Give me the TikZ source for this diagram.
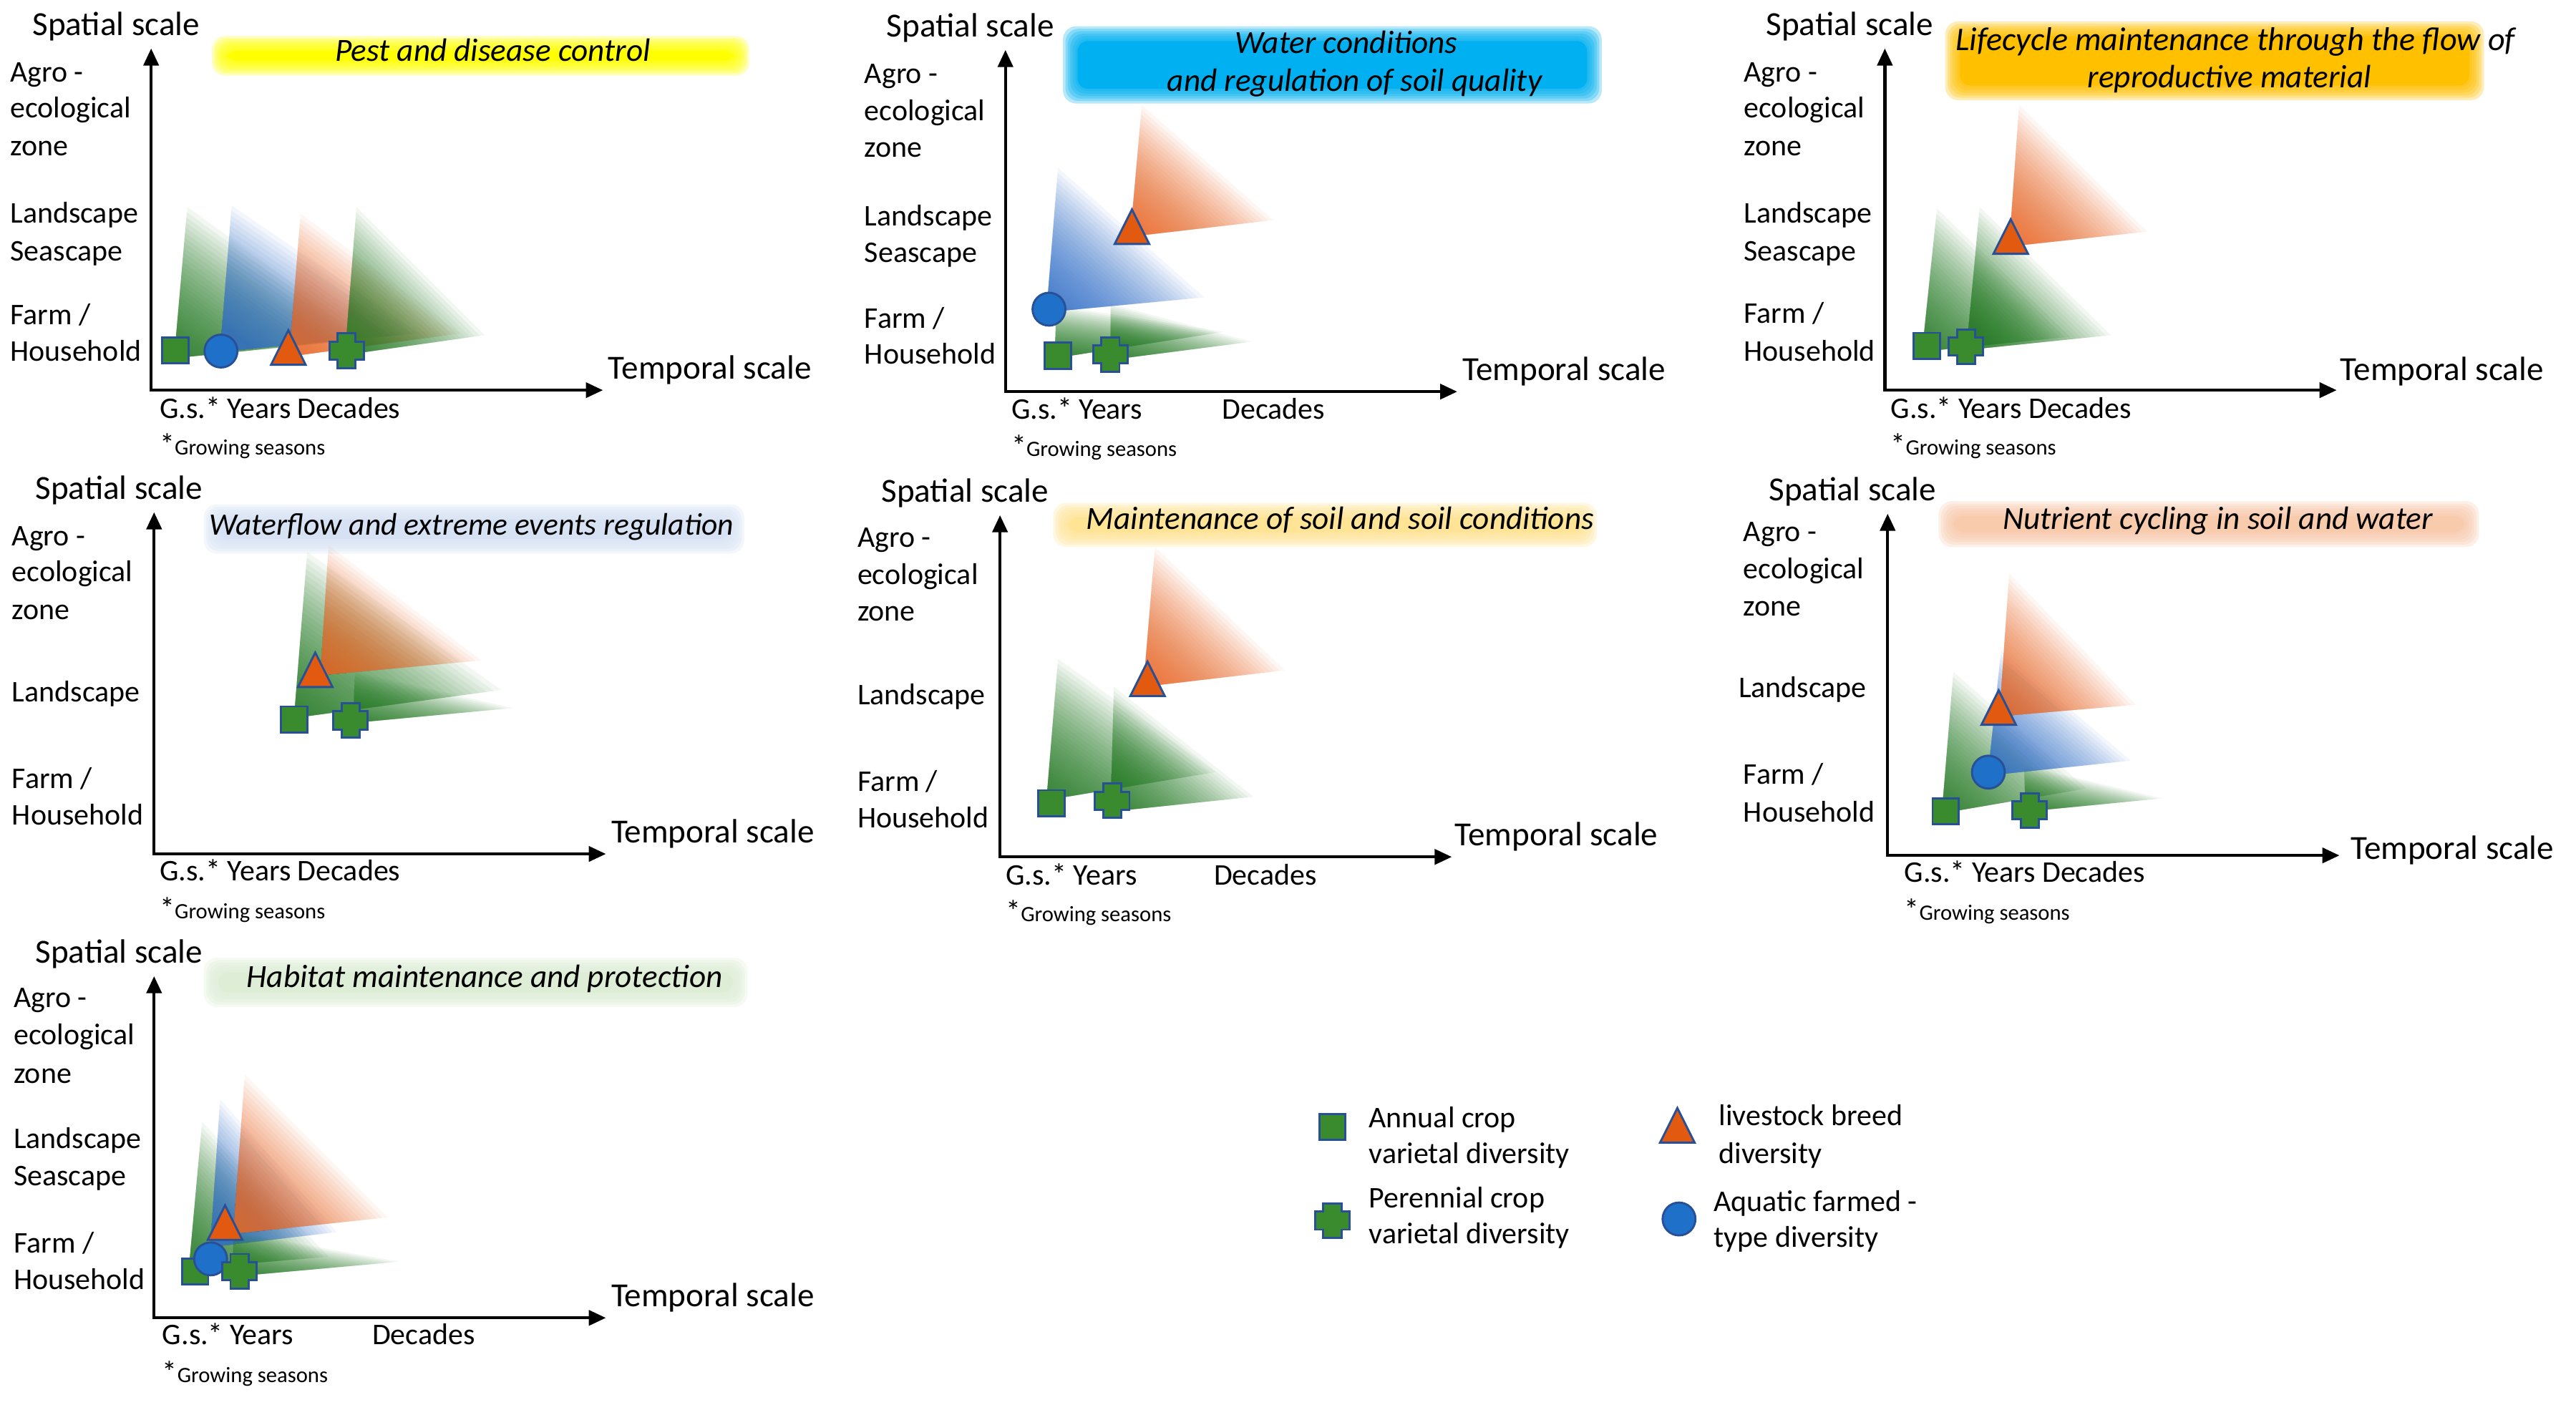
\documentclass[tikz,border=0pt]{standalone}
\usepackage{fontspec}
\setmainfont{Carlito}
\usetikzlibrary{arrows.meta,calc}

\definecolor{fgreen}{RGB}{40,125,40}
\definecolor{fblue}{RGB}{55,115,205}
\definecolor{forange}{RGB}{236,106,42}
\definecolor{mgreen}{RGB}{58,139,46}
\definecolor{mblue}{RGB}{31,112,200}
\definecolor{morange}{RGB}{226,90,16}
\definecolor{medge}{RGB}{40,80,150}
\definecolor{tyellow}{RGB}{255,255,0}
\definecolor{tcyan}{RGB}{0,176,240}
\definecolor{tamber}{RGB}{255,192,0}
\definecolor{tlblue}{RGB}{214,226,244}
\definecolor{tgold}{RGB}{255,228,150}
\definecolor{tpeach}{RGB}{249,203,173}
\definecolor{tlgreen}{RGB}{222,238,214}

\tikzset{
 axisline/.style={line width=1.3pt, line join=miter, {Triangle[length=2.6mm,width=2.3mm]}-{Triangle[length=2.6mm,width=2.3mm]}},
 axlab/.style={anchor=west, inner sep=0pt, font=\fontsize{14.6}{17}\selectfont, text height=1.5ex, text depth=0.25ex},
 lvl/.style={anchor=west, inner sep=0pt, font=\fontsize{13}{15}\selectfont, text height=1.5ex, text depth=0.25ex},
 ttl/.style={inner sep=0pt, font=\fontsize{14}{16}\selectfont\itshape, text height=1.5ex, text depth=0.25ex},
 mk/.style={draw=medge, line width=0.9pt, line join=miter},
}

\newcommand{\fan}[4]{%
  \foreach \k in {1,...,40}{%
    \pgfmathsetmacro\fanT{(\k/40)^1.4}%
    \fill[#1, opacity=0.06] (#2) -- ($(#2)!\fanT!(#3)$) -- ($(#2)!\fanT!(#4)$) -- cycle;
  }}
\newcommand{\sqm}[3]{\coordinate (#1) at (#2,#3);
  \draw[mk, fill=mgreen, shift={(#1)}] (-8,-8) rectangle (8,8);}
\newcommand{\cim}[3]{\coordinate (#1) at (#2,#3);
  \draw[mk, fill=mblue] (#1) circle[radius=10];}
\newcommand{\trm}[3]{\coordinate (#1) at (#2,#3);
  \draw[mk, fill=morange, shift={(#1)}] (0,-10.5) -- (10.5,10.5) -- (-10.5,10.5) -- cycle;}
\newcommand{\crm}[3]{\coordinate (#1) at (#2,#3);
  \draw[mk, fill=mgreen, shift={(#1)}] (-5.5,-10.5) -- (5.5,-10.5) -- (5.5,-5.5) -- (10.5,-5.5) -- (10.5,5.5) -- (5.5,5.5) -- (5.5,10.5) -- (-5.5,10.5) -- (-5.5,5.5) -- (-10.5,5.5) -- (-10.5,-5.5) -- (-5.5,-5.5) -- cycle;}
\newcommand{\tbox}[5]{%
  \fill[#1, rounded corners=1.5mm] (#2+9,#3+9) rectangle (#4-9,#5-9);
  \foreach \e in {0,1.5,...,7.5}{%
    \fill[#1, opacity=0.28, rounded corners=2mm] (#2+\e,#3+\e) rectangle (#4-\e,#5-\e);}}
\newcommand{\axes}[1]{%
  \coordinate (#1o) at (0,0);
  \coordinate (#1xe) at (275,0);
  \coordinate (#1ye) at (0,-208);
  \draw[axisline] (#1ye) -- (#1o) -- (#1xe);
  \node[axlab] (#1sp) at (-72.5,-220) {Spatial scale};}

\begin{document}
\begin{tikzpicture}[x=0.25mm, y=-0.25mm]
\useasboundingbox (0,0) rectangle (1568,855);
\fill[white] (0,0) rectangle (1568,855);

% ---------- title boxes ----------
\tbox{tyellow}{129}{22}{456}{46}
\tbox{tcyan}{647}{16}{975}{63}
\tbox{tamber}{1184}{13}{1512}{61}
\tbox{tlblue}{124}{307}{453}{337}
\tbox{tgold}{641}{306}{972}{333}
\tbox{tpeach}{1180}{305}{1509}{333}
\tbox{tlgreen}{124}{583}{455}{613}

\node[ttl] (t1) at (300,33) {Pest and disease control};
\node[ttl] (t2a) at (819.5,28.3) {Water conditions};
\node[ttl] (t2b) at (824.6,51.2) {and regulation of soil quality};
\node[ttl, anchor=west, font=\fontsize{14.3}{16}\selectfont\itshape] (t3a) at (1190,26.5) {Lifecycle maintenance through the flow of};
\node[ttl] (t3b) at (1357,49.3) {reproductive material};
\node[ttl, font=\fontsize{13.5}{16}\selectfont\itshape] (t4) at (287,321.6) {Waterflow and extreme events regulation};
\node[ttl, anchor=west] (t5) at (661,318) {Maintenance of soil and soil conditions};
\node[ttl] (t6) at (1350,318) {Nutrient cycling in soil and water};
\node[ttl] (t7) at (295,597) {Habitat maintenance and protection};

% ---------- panel 1 ----------
\begin{scope}[shift={(92,237.5)}]
\axes{p1}
\node[axlab] (p1tp) at (278,-11) {Temporal scale};
\node[lvl] (p1l1) at (-86,-192) {Agro -};
\node[lvl] (p1l2) at (-86,-170) {ecological};
\node[lvl] (p1l3) at (-86,-147) {zone};
\node[lvl] (p1l4) at (-86,-106) {Landscape};
\node[lvl] (p1l5) at (-86,-83) {Seascape};
\node[lvl] (p1l6) at (-86,-44) {Farm /};
\node[lvl] (p1l7) at (-86,-22) {Household};
\node[lvl] (p1gs) at (5,12.8) {G.s.* Years Decades};
\node[lvl] (p1gr) at (5,35) {*{\fontsize{9.5}{11}\selectfont Growing seasons}};
\end{scope}
\fan{fgreen}{106,218}{114,126}{225,206}
\fan{fblue}{134,214}{141,125}{255,203}
\fan{forange}{176,217}{183,130}{280,203}
\fan{fgreen}{210,216}{217,126}{295,204}
\sqm{p1sq}{106.7}{213.3}
\cim{p1ci}{134.5}{213.7}
\trm{p1tr}{175.5}{211.5}
\crm{p1cr}{211}{213.5}

% ---------- panel 2 ----------
\begin{scope}[shift={(612,238.4)}]
\axes{p2}
\node[axlab] (p2tp) at (278,-11) {Temporal scale};
\node[lvl] (p2l1) at (-86,-192) {Agro -};
\node[lvl] (p2l2) at (-86,-169) {ecological};
\node[lvl] (p2l3) at (-86,-147) {zone};
\node[lvl] (p2l4) at (-86,-105) {Landscape};
\node[lvl] (p2l5) at (-86,-83) {Seascape};
\node[lvl] (p2l6) at (-86,-43) {Farm /};
\node[lvl] (p2l7) at (-86,-21) {Household};
\node[lvl] (p2gs) at (3.4,12.6) {G.s.* Years};
\node[lvl] (p2dc) at (131.6,12.6) {Decades};
\node[lvl] (p2gr) at (3.4,35) {*{\fontsize{9.5}{11}\selectfont Growing seasons}};
\end{scope}
\fan{fgreen}{642,218}{643,186}{745,202}
\fan{fgreen}{676,219}{676,185}{762,208}
\fan{fblue}{637,190}{644,102}{733,181}
\fan{forange}{688,144}{695,64}{775,134}
\sqm{p2sq}{643.8}{216.5}
\crm{p2cr}{675.9}{215.8}
\cim{p2ci}{638.5}{188.2}
\trm{p2tr}{689}{138}

% ---------- panel 3 ----------
\begin{scope}[shift={(1147.3,237.5)}]
\axes{p3}
\node[axlab] (p3tp) at (277,-10) {Temporal scale};
\node[lvl] (p3l1) at (-86,-192) {Agro -};
\node[lvl] (p3l2) at (-86,-170) {ecological};
\node[lvl] (p3l3) at (-86,-147) {zone};
\node[lvl] (p3l4) at (-86,-106) {Landscape};
\node[lvl] (p3l5) at (-86,-83) {Seascape};
\node[lvl] (p3l6) at (-86,-45) {Farm /};
\node[lvl] (p3l7) at (-86,-22) {Household};
\node[lvl] (p3gs) at (3.3,12.8) {G.s.* Years Decades};
\node[lvl] (p3gr) at (3.3,35) {*{\fontsize{9.5}{11}\selectfont Growing seasons}};
\end{scope}
\fan{fgreen}{1170,214}{1179,127}{1260,205}
\fan{fgreen}{1197,213}{1205,126}{1285,204}
\fan{forange}{1223,150}{1229,64}{1307,141}
\sqm{p3sq}{1172.7}{210.6}
\crm{p3cr}{1196.7}{211}
\trm{p3tr}{1223.9}{144}

% ---------- panel 4 ----------
\begin{scope}[shift={(93.8,519.8)}]
\axes{p4}
\node[axlab] (p4tp) at (278,-11) {Temporal scale};
\node[lvl] (p4l1) at (-86.7,-192) {Agro -};
\node[lvl] (p4l2) at (-86.7,-170) {ecological};
\node[lvl] (p4l3) at (-86.7,-147) {zone};
\node[lvl] (p4l4) at (-86.7,-97) {Landscape};
\node[lvl] (p4l6) at (-86.7,-44) {Farm /};
\node[lvl] (p4l7) at (-86.7,-22) {Household};
\node[lvl] (p4gs) at (3.2,12) {G.s.* Years Decades};
\node[lvl] (p4gr) at (3.2,35) {*{\fontsize{9.5}{11}\selectfont Growing seasons}};
\end{scope}
\fan{fgreen}{179,437}{187,336}{305,420}
\fan{fgreen}{215,440}{216,409}{312,431}
\fan{forange}{195,411}{200,332}{293,402}
\sqm{p4sq}{179}{438}
\crm{p4cr}{213.4}{438.5}
\trm{p4tr}{191.9}{407.7}

% ---------- panel 5 ----------
\begin{scope}[shift={(608.7,521.6)}]
\axes{p5}
\node[axlab] (p5tp) at (276.6,-11) {Temporal scale};
\node[lvl] (p5l1) at (-87,-192.7) {Agro -};
\node[lvl] (p5l2) at (-87,-170) {ecological};
\node[lvl] (p5l3) at (-87,-148) {zone};
\node[lvl] (p5l4) at (-87,-97) {Landscape};
\node[lvl] (p5l6) at (-87,-44) {Farm /};
\node[lvl] (p5l7) at (-87,-22) {Household};
\node[lvl] (p5gs) at (3.3,12.8) {G.s.* Years};
\node[lvl] (p5dc) at (130,12.8) {Decades};
\node[lvl] (p5gr) at (3.3,35) {*{\fontsize{9.5}{11}\selectfont Growing seasons}};
\end{scope}
\fan{fgreen}{637,487}{644,401}{740,470}
\fan{fgreen}{676,494}{678,418}{763,485}
\fan{forange}{696,418}{703,333}{782,408}
\sqm{p5sq}{640}{489}
\crm{p5cr}{677}{487.4}
\trm{p5tr}{698.5}{413.2}

% ---------- panel 6 ----------
\begin{scope}[shift={(1149,520.7)}]
\axes{p6}
\node[axlab] (p6tp) at (281.6,-2) {Temporal scale};
\node[lvl] (p6l1) at (-88,-195.5) {Agro -};
\node[lvl] (p6l2) at (-88,-172.7) {ecological};
\node[lvl] (p6l3) at (-88,-149.8) {zone};
\node[lvl] (p6l4) at (-91,-100.5) {Landscape};
\node[lvl] (p6l6) at (-88,-47.5) {Farm /};
\node[lvl] (p6l7) at (-88,-24.7) {Household};
\node[lvl] (p6gs) at (9.9,12) {G.s.* Years Decades};
\node[lvl] (p6gr) at (9.9,35) {*{\fontsize{9.5}{11}\selectfont Growing seasons}};
\end{scope}
\fan{fgreen}{1182,495}{1189,409}{1270,480}
\fan{fgreen}{1233,494}{1232,466}{1316,486}
\fan{fblue}{1210,472}{1218,396}{1297,463}
\fan{forange}{1217,436}{1223,349}{1300,429}
\sqm{p6sq}{1184.3}{493.8}
\crm{p6cr}{1235.5}{493.3}
\cim{p6ci}{1210.3}{470}
\trm{p6tr}{1216.6}{430.7}

% ---------- panel 7 ----------
\begin{scope}[shift={(93.8,802.2)}]
\axes{p7}
\node[axlab] (p7tp) at (278,-11) {Temporal scale};
\node[lvl] (p7l1) at (-85.7,-193) {Agro -};
\node[lvl] (p7l2) at (-85.7,-170.6) {ecological};
\node[lvl] (p7l3) at (-85.7,-147.2) {zone};
\node[lvl] (p7l4) at (-85.7,-107.2) {Landscape};
\node[lvl] (p7l5) at (-85.7,-84.8) {Seascape};
\node[lvl] (p7l6) at (-85.7,-43.8) {Farm /};
\node[lvl] (p7l7) at (-85.7,-21.4) {Household};
\node[lvl] (p7gs) at (4.8,12.1) {G.s.* Years};
\node[lvl] (p7dc) at (132.5,12.1) {Decades};
\node[lvl] (p7gr) at (4.8,35) {*{\fontsize{9.5}{11}\selectfont Growing seasons}};
\end{scope}
\fan{fgreen}{115,772}{123,683}{200,765}
\fan{fblue}{128,759}{134,669}{205,750}
\fan{fgreen}{142,777}{142,750}{243,768}
\fan{forange}{142,751}{149,654}{236,741}
\sqm{p7sq}{118.8}{774}
\cim{p7ci}{128.2}{766.3}
\crm{p7cr}{145.8}{773.8}
\trm{p7tr}{137}{744.2}

% ---------- legend ----------
\sqm{lgsq}{811}{686}
\crm{lgcr}{811}{743}
\trm{lgtr}{1021}{685}
\cim{lgci}{1022}{742}
\node[lvl] (lg1a) at (833,682) {Annual crop};
\node[lvl] (lg1b) at (833,704) {varietal diversity};
\node[lvl] (lg2a) at (833,731) {Perennial crop};
\node[lvl] (lg2b) at (833,753) {varietal diversity};
\node[lvl] (lg3a) at (1046,681) {livestock breed};
\node[lvl] (lg3b) at (1046,704) {diversity};
\node[lvl] (lg4a) at (1043,733) {Aquatic farmed -};
\node[lvl] (lg4b) at (1043,755) {type diversity};
\end{tikzpicture}
\end{document}
